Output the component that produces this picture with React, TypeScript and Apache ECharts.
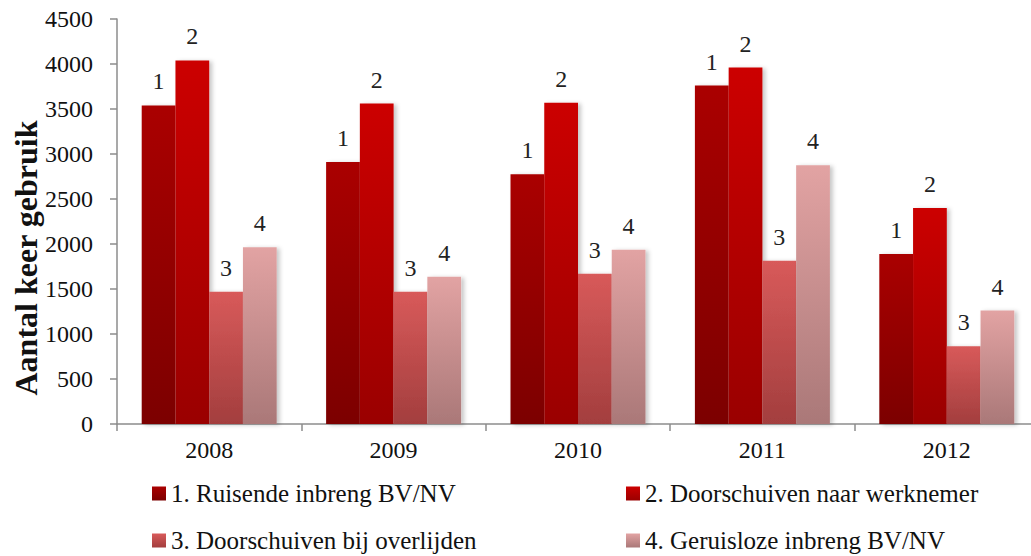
import React, { useEffect, useRef } from "react";
import * as echarts from "echarts";

const years = ["2008", "2009", "2010", "2011", "2012"];
const seriesNames = [
  "1. Ruisende inbreng BV/NV",
  "2. Doorschuiven naar werknemer",
  "3. Doorschuiven bij overlijden",
  "4. Geruisloze inbreng BV/NV",
];
const s1 = [3540, 2910, 2775, 3760, 1890];
const s2 = [4040, 3560, 3570, 3960, 2400];
const s3 = [1470, 1470, 1670, 1815, 865];
const s4 = [1965, 1635, 1935, 2875, 1260];
const yTicks = { min: 0, max: 4500, interval: 500 };
const barLabels = ["1", "2", "3", "4"];

const gradients: [string, string][] = [
  ["#AA0000", "#7C0000"],
  ["#CC0000", "#9A0000"],
  ["#D85A5A", "#A33E3E"],
  ["#E2A3A3", "#AA7878"],
];

const FONT = "Liberation Serif";

export default function App() {
  const ref = useRef<HTMLDivElement>(null);
  useEffect(() => {
    document.body.style.margin = "0";
    const chart = echarts.init(ref.current!, undefined, { renderer: "svg" });
    const values = [s1, s2, s3, s4];
    const legendPos = [
      { left: 152, top: 481 },
      { left: 626, top: 481 },
      { left: 152, top: 528 },
      { left: 626, top: 528 },
    ];
    chart.setOption({
      animation: false,
      textStyle: { fontFamily: FONT },
      grid: { left: 117, right: -8, top: 19, bottom: 132, outerBoundsMode: "none" },
      legend: seriesNames.map((n, i) => ({
        data: [n],
        left: legendPos[i].left,
        top: legendPos[i].top,
        padding: 0,
        itemWidth: 14,
        itemHeight: 14,
        icon: "rect",
        textStyle: { fontFamily: FONT, fontSize: 25, color: "#111" },
      })),
      xAxis: {
        type: "category",
        data: years,
        axisLine: { lineStyle: { color: "#8c8c8c", width: 1.5 } },
        axisTick: { show: true, length: 7, lineStyle: { color: "#8c8c8c", width: 1.5 } },
        axisLabel: { fontFamily: FONT, fontSize: 24, color: "#111", margin: 14 },
      },
      yAxis: {
        type: "value",
        min: yTicks.min,
        max: yTicks.max,
        interval: yTicks.interval,
        splitLine: { show: false },
        axisLine: { show: true, lineStyle: { color: "#8c8c8c", width: 1.5 } },
        axisTick: { show: true, length: 7, lineStyle: { color: "#8c8c8c", width: 1.5 } },
        axisLabel: {
          fontFamily: FONT,
          fontSize: 24,
          color: "#111",
          margin: 24,
          formatter: (v: number) => String(v),
        },
      },
      graphic: [
        {
          type: "text",
          x: 26,
          y: 258,
          rotation: Math.PI / 2,
          style: {
            text: "Aantal keer gebruik",
            font: `bold 32px ${FONT}`,
            fill: "#111",
            align: "center",
            verticalAlign: "middle",
          },
        },
      ],
      series: values.map((v, i) => ({
        name: seriesNames[i],
        type: "bar",
        data: v,
        barGap: "0%",
        barCategoryGap: "26.8%",
        itemStyle: {
          color: new echarts.graphic.LinearGradient(0, 0, 0, 1, [
            { offset: 0, color: gradients[i][0] },
            { offset: 1, color: gradients[i][1] },
          ]),
          shadowBlur: 4,
          shadowOffsetX: 3,
          shadowOffsetY: 1,
          shadowColor: "rgba(0,0,0,0.22)",
        },
        label: {
          show: true,
          position: "top",
          distance: 12,
          formatter: () => barLabels[i],
          fontFamily: FONT,
          fontSize: 24,
          color: "#222",
        },
      })),
    });
    return () => chart.dispose();
  }, []);
  return <div ref={ref} style={{ width: 1031, height: 556 }} />;
}
